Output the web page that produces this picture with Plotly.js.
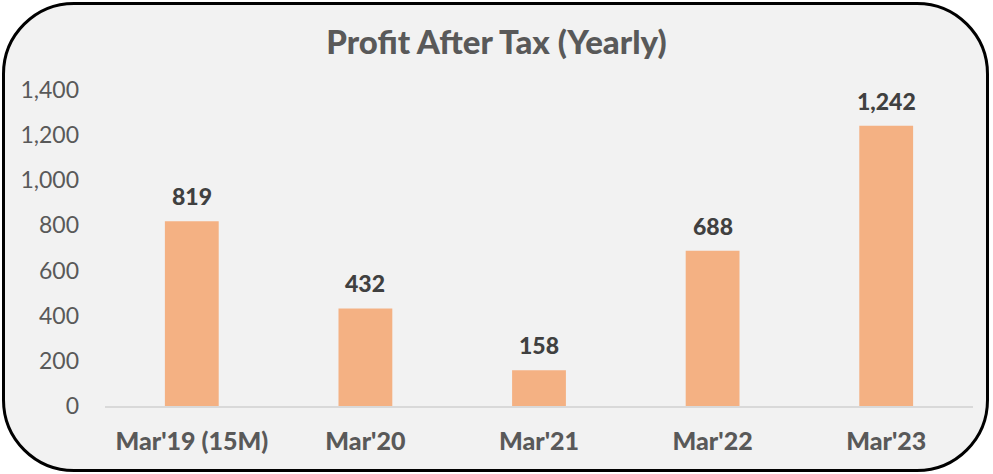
<!DOCTYPE html>
<html>
<head>
<meta charset="utf-8">
<script src="https://cdn.plot.ly/plotly-3.0.1.min.js"></script>
<style>
  html, body { margin:0; padding:0; background:#ffffff; }
  #wrap { position:relative; width:993px; height:474px; overflow:hidden; }
  #frame { position:absolute; left:2px; top:2px; width:987px; height:470px; box-sizing:border-box;
           border:3px solid #000; border-radius:72px; background:#F2F2F2; }
  #chart { position:absolute; left:0; top:0; width:993px; height:474px; }
</style>
</head>
<body>
<div id="wrap">
  <div id="frame"></div>
  <div id="chart"></div>
</div>
<script>
const categories = ["Mar'19 (15M)", "Mar'20", "Mar'21", "Mar'22", "Mar'23"];
const profitValues = [819, 432, 158, 688, 1242];
const valueLabels = ["819", "432", "158", "688", "1,242"];
const yTickValues = [0, 200, 400, 600, 800, 1000, 1200, 1400];

const FONT = "Lato, 'Open Sans', sans-serif";

const trace = {
  type: 'bar',
  x: categories,
  y: profitValues,
  marker: { color: '#F4B183' },
  hoverinfo: 'x+y'
};

const annotations = categories.map((c, i) => ({
  x: c, y: profitValues[i], xref: 'x', yref: 'y',
  text: valueLabels[i],
  showarrow: false, yanchor: 'bottom', yshift: 9,
  font: { family: FONT, size: 23, color: '#404040', weight: 900 }
}));

const layout = {
  width: 993, height: 474,
  paper_bgcolor: 'rgba(0,0,0,0)',
  plot_bgcolor: 'rgba(0,0,0,0)',
  margin: { l: 105, r: 20, t: 90, b: 68 },
  bargap: 0.69,
  showlegend: false,
  title: {
    text: 'Profit After Tax (Yearly)',
    x: 0.5, xanchor: 'center', xref: 'container',
    y: 0.91, yanchor: 'middle', yref: 'container',
    font: { family: FONT, size: 33, color: '#595959', weight: 900 }
  },
  xaxis: {
    type: 'category',
    showgrid: false, zeroline: false,
    showline: true, linecolor: '#D9D9D9', linewidth: 1.5,
    ticks: '', ticklabelstandoff: 12,
    tickfont: { family: FONT, size: 25, color: '#595959', weight: 900 }
  },
  yaxis: {
    range: [0, 1400],
    tickvals: yTickValues,
    tickformat: ',d',
    showgrid: false, zeroline: false, showline: false,
    ticks: '', ticklabelstandoff: 25,
    tickfont: { family: FONT, size: 23, color: '#595959' }
  },
  annotations: annotations
};

Plotly.newPlot('chart', [trace], layout, { staticPlot: true, displayModeBar: false });
</script>
</body>
</html>
